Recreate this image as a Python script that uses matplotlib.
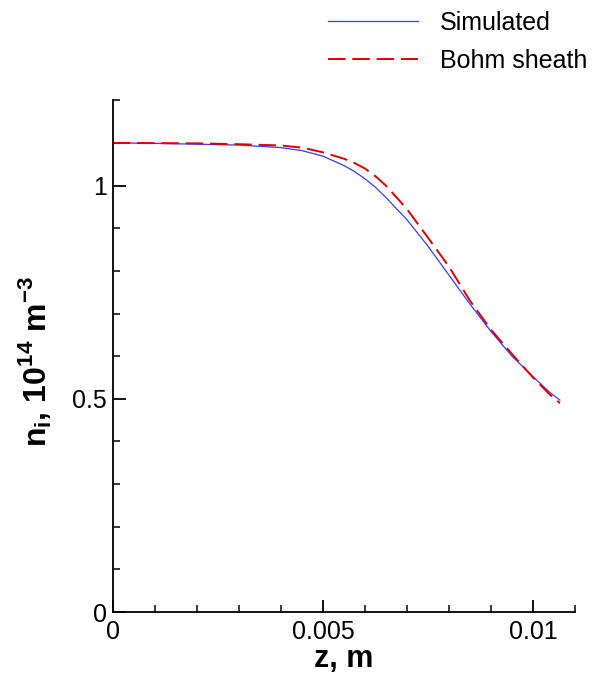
import numpy as np
import matplotlib
matplotlib.use("Agg")
import matplotlib.pyplot as plt
from matplotlib.ticker import MultipleLocator

plt.rcParams['font.family'] = ['Liberation Sans', 'DejaVu Sans']
plt.rcParams['mathtext.fontset'] = 'custom'
plt.rcParams['mathtext.rm'] = 'Liberation Sans'
plt.rcParams['mathtext.bf'] = 'Liberation Sans:bold'

# data
z_sim = [0, 0.001, 0.002, 0.003, 0.0035, 0.004, 0.0045, 0.005, 0.0055, 0.00575,
         0.006, 0.00625, 0.0065, 0.007, 0.0075, 0.008, 0.0085, 0.009, 0.0095,
         0.01, 0.0104, 0.01064]
n_sim = [1.1, 1.099, 1.097, 1.095, 1.092, 1.089, 1.082, 1.069, 1.047, 1.033,
         1.016, 0.996, 0.972, 0.92, 0.858, 0.79, 0.722, 0.658, 0.600,
         0.552, 0.515, 0.497]

z_bohm = [0, 0.002, 0.003, 0.004, 0.0045, 0.005, 0.0055, 0.00575, 0.006, 0.00625,
          0.0065, 0.007, 0.0075, 0.008, 0.0085, 0.009, 0.0095, 0.01, 0.0104, 0.01064]
n_bohm = [1.1, 1.099, 1.097, 1.094, 1.089, 1.078, 1.063, 1.053, 1.040, 1.022,
          1.0, 0.945, 0.878, 0.81, 0.73, 0.662, 0.605, 0.55, 0.51, 0.49]

fig = plt.figure(figsize=(6.13, 6.73), dpi=100)
ax = fig.add_axes([0.184, 0.0906, 0.754, 0.7604])

ax.plot(z_sim, n_sim, color='#3a3aff', lw=0.9, label='Simulated')
l2, = ax.plot(z_bohm, n_bohm, color='#dd0000', lw=1.4, label='Bohm sheath')
l2.set_dashes((9, 3.5))

ax.set_xlim(0, 0.011)
ax.set_ylim(0, 1.2)
ax.xaxis.set_minor_locator(MultipleLocator(0.001))
ax.yaxis.set_minor_locator(MultipleLocator(0.1))
ax.set_xticks([0, 0.005, 0.01])
ax.set_xticklabels(['0', '0.005', '0.01'])
ax.set_yticks([0, 0.5, 1])
ax.set_yticklabels(['0', '0.5', '1'])

for s in ['top', 'right']:
    ax.spines[s].set_visible(False)
for s in ['left', 'bottom']:
    ax.spines[s].set_linewidth(1.3)

ax.tick_params(which='major', direction='in', length=9, width=1.3, labelsize=18, pad=4)
ax.tick_params(which='minor', direction='in', length=5, width=1.1)
ax.tick_params(axis='x', pad=6)

ax.set_xlabel('z, m', fontsize=22, fontweight='bold', labelpad=0)
ax.set_ylabel(r'$\mathbf{n_i}$, 10$^{\mathbf{14}}$ m$^{\mathbf{-3}}$', fontsize=23,
              fontweight='bold')
ax.yaxis.set_label_coords(-0.128, 0.49)

fig.legend(loc='upper left', bbox_to_anchor=(0.499, 1.017), frameon=False,
           fontsize=18, handlelength=3.6, handletextpad=0.85, labelspacing=0.55)

fig.savefig('out.png', dpi=100)
